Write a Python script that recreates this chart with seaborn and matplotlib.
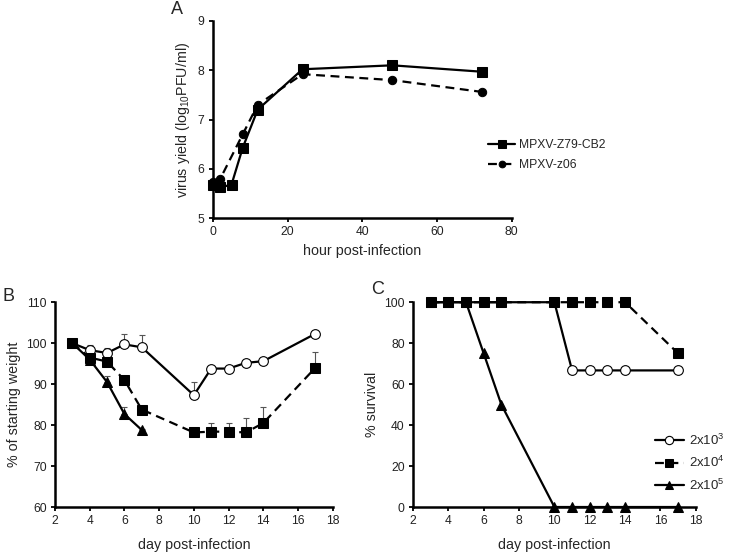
import numpy as np
import pandas as pd
import matplotlib
matplotlib.use("Agg")
import matplotlib.pyplot as plt
import seaborn as sns

# panel A: virus growth
hours_cb2 = [0, 2, 5, 8, 12, 24, 48, 72]
yield_cb2 = [5.67, 5.62, 5.68, 6.43, 7.2, 8.02, 8.1, 7.97]
hours_z06 = [0, 2, 8, 12, 24, 48, 72]
yield_z06 = [5.73, 5.8, 6.7, 7.3, 7.92, 7.8, 7.56]

# panel B: weight
days = [3, 4, 5, 6, 7, 10, 11, 12, 13, 14, 17]
weight_lo = [100, 98.3, 97.6, 99.7, 99.0, 87.3, 93.8, 93.8, 95.2, 95.6, 102.3]
weight_lo_err = [0, 1.3, 1.2, 2.6, 3.0, 3.2, 0.3, 0.3, 0.3, 0.3, 0.3]
weight_mid = [100, 96.5, 95.5, 91.0, 83.8, 78.2, 78.4, 78.4, 78.2, 80.5, 94.0]
weight_mid_err = [0, 0.5, 0.5, 0.3, 0.3, 0.3, 2.0, 2.0, 3.5, 3.8, 3.9]
days_hi = [3, 4, 5, 6, 7]
weight_hi = [100, 96.0, 90.5, 82.7, 78.8]
weight_hi_err = [0, 0.5, 1.5, 1.8, 0.3]

# panel C: survival
surv_lo = [100, 100, 100, 100, 100, 100, 66.7, 66.7, 66.7, 66.7, 66.7]
surv_mid = [100, 100, 100, 100, 100, 100, 100, 100, 100, 100, 75]
surv_hi = [100, 100, 100, 75, 50, 0, 0, 0, 0, 0, 0]
dose_labels = ["2x10$^3$", "2x10$^4$", "2x10$^5$"]

sns.set_style("ticks")
plt.rcParams["font.family"] = ["Liberation Sans", "DejaVu Sans"]
plt.rcParams["mathtext.fontset"] = "custom"
plt.rcParams["mathtext.rm"] = "Liberation Sans"

fig = plt.figure(figsize=(7.29, 5.52), dpi=100)
axA = fig.add_axes([0.292, 0.605, 0.410, 0.357])
axB = fig.add_axes([0.0754, 0.0815, 0.381, 0.371])
axC = fig.add_axes([0.5665, 0.0815, 0.388, 0.371])

lw = 1.6
tick_fs = 8.7
label_fs = 10.3


def style_axis(ax):
    sns.despine(ax=ax)
    for s in ["left", "bottom"]:
        ax.spines[s].set_linewidth(1.8)
        ax.spines[s].set_color("black")
    ax.tick_params(axis="both", labelsize=tick_fs, length=3, width=1.3,
                   color="black", labelcolor="#222222", pad=3)


# A
sns.lineplot(x=hours_cb2, y=yield_cb2, ax=axA, color="black", lw=lw,
             marker="s", markersize=6.5, markeredgecolor="black",
             label="MPXV-Z79-CB2")
sns.lineplot(x=hours_z06, y=yield_z06, ax=axA, color="black", lw=lw,
             linestyle=(0, (4, 2.5)), marker="o", markersize=6,
             markeredgecolor="black", label="MPXV-z06")
axA.set_xlim(0, 80)
axA.set_ylim(5, 9)
axA.set_xticks([0, 20, 40, 60, 80])
axA.set_yticks([5, 6, 7, 8, 9])
axA.set_xlabel("hour post-infection", fontsize=label_fs)
axA.set_ylabel("virus yield (log$_{10}$PFU/ml)", fontsize=label_fs)
style_axis(axA)
axA.legend(loc="center left", bbox_to_anchor=(0.655, 0.719),
           bbox_transform=fig.transFigure, frameon=False, fontsize=tick_fs,
           handlelength=2.2, handletextpad=0.3, labelspacing=0.7,
           markerscale=0.8)
fig.text(0.243, 0.982, "A", fontsize=13, va="center", ha="center")

# B
errkw = dict(fmt="none", ecolor="#555555", elinewidth=0.8, capsize=2.5,
             capthick=0.8)
axB.errorbar(days, weight_lo, yerr=[np.zeros(len(days)), weight_lo_err], **errkw)
axB.errorbar(days, weight_mid, yerr=[np.zeros(len(days)), weight_mid_err], **errkw)
axB.errorbar(days_hi, weight_hi, yerr=[np.zeros(len(days_hi)), weight_hi_err], **errkw)
sns.lineplot(x=days, y=weight_lo, ax=axB, color="black", lw=lw, marker="o",
             markersize=7, markerfacecolor="white", markeredgecolor="black",
             markeredgewidth=0.8, zorder=3)
sns.lineplot(x=days, y=weight_mid, ax=axB, color="black", lw=lw,
             linestyle=(0, (4, 2.5)), marker="s", markersize=7,
             markeredgecolor="black", zorder=4)
sns.lineplot(x=days_hi, y=weight_hi, ax=axB, color="black", lw=lw,
             marker="^", markersize=6.5, markeredgecolor="black", zorder=5)
axB.set_xlim(2, 18)
axB.set_ylim(60, 110)
axB.set_xticks(range(2, 19, 2))
axB.set_yticks(range(60, 111, 10))
axB.set_xlabel("day post-infection", fontsize=label_fs, labelpad=8)
axB.set_ylabel("% of starting weight", fontsize=label_fs)
style_axis(axB)
fig.text(0.012, 0.462, "B", fontsize=13, va="center", ha="center")

# C
sns.lineplot(x=days, y=surv_lo, ax=axC, color="black", lw=lw, marker="o",
             markersize=7, markerfacecolor="white", markeredgecolor="black",
             markeredgewidth=0.8, label=dose_labels[0], zorder=3)
sns.lineplot(x=days, y=surv_mid, ax=axC, color="black", lw=lw,
             linestyle=(0, (4, 2.5)), marker="s", markersize=7,
             markeredgecolor="black", label=dose_labels[1], zorder=4)
sns.lineplot(x=days, y=surv_hi, ax=axC, color="black", lw=lw, marker="^",
             markersize=6.5, markeredgecolor="black", label=dose_labels[2],
             zorder=5)
axC.set_xlim(2, 18)
axC.set_ylim(0, 100)
axC.set_xticks(range(2, 19, 2))
axC.set_yticks(range(0, 101, 20))
axC.set_xlabel("day post-infection", fontsize=label_fs, labelpad=8)
axC.set_ylabel("% survival", fontsize=label_fs)
style_axis(axC)
axC.legend(loc="center left", bbox_to_anchor=(0.882, 0.162),
           bbox_transform=fig.transFigure, frameon=False, fontsize=9.5,
           handlelength=2.2, handletextpad=0.4, labelspacing=0.55,
           markerscale=0.85)
fig.text(0.518, 0.475, "C", fontsize=13, va="center", ha="center")

for a in (axA, axB, axC):
    for line in a.lines:
        line.set_clip_on(False)

fig.savefig("out.png", dpi=100)
